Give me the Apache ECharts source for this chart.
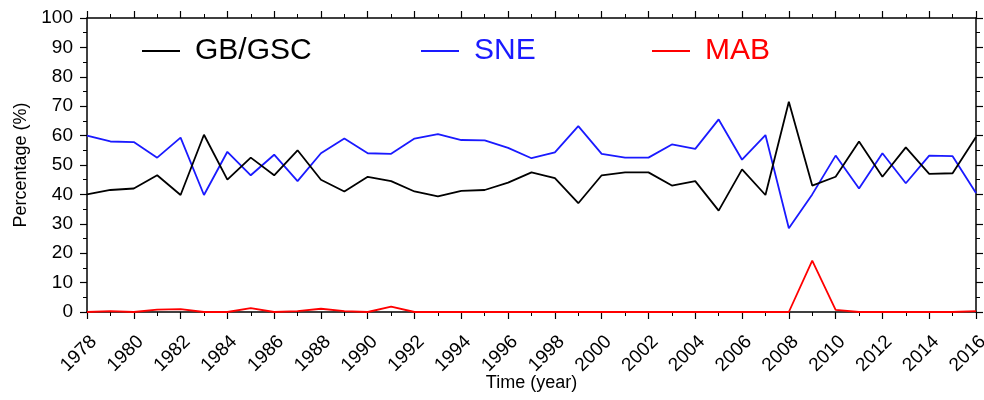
<!DOCTYPE html>
<html>
<head>
<meta charset="utf-8">
<script src="https://cdn.jsdelivr.net/npm/echarts@6/dist/echarts.min.js"></script>
<style>
  html, body { margin: 0; padding: 0; background: #fff; }
  #chart { width: 984px; height: 400px; }
</style>
</head>
<body>
<div id="chart"></div>
<script>
// 年份
const years = [];
for (let y = 1978; y <= 2016; y++) years.push(y);

// GB/GSC 百分比
const gbValues = [40, 41.5, 42, 46.5, 39.8, 60.3, 45, 52.5, 46.5, 55, 45, 41, 46, 44.5, 41,
    39.3, 41.2, 41.5, 44, 47.5, 45.5, 37, 46.5, 47.5, 47.5, 43, 44.5, 34.5, 48.5, 39.8,
    71.5, 43, 46, 58, 46, 56, 47, 47.2, 59.5];

// SNE 百分比
const sneValues = [60, 58, 57.8, 52.5, 59.3, 39.8, 54.5, 46.5, 53.5, 44.5, 54, 59, 54, 53.8, 59,
    60.5, 58.5, 58.4, 55.8, 52.3, 54.3, 63.2, 53.8, 52.5, 52.5, 57, 55.5, 65.5, 51.8, 60.2,
    28.5, 40, 53.2, 42, 54, 43.8, 53.2, 53, 40.5];

// MAB 百分比
const mabValues = [0, 0.3, 0, 0.8, 1, 0, 0, 1.3, 0, 0.3, 1.1, 0.3, 0, 1.8, 0,
    0, 0, 0, 0, 0, 0, 0, 0, 0, 0, 0, 0, 0, 0, 0,
    0, 17.5, 0.7, 0, 0, 0, 0, 0, 0.3];

const seriesNames = ['GB/GSC', 'SNE', 'MAB'];
const seriesColors = ['#000000', '#1a1aff', '#ff0000'];

const font = 'Liberation Sans, Arial, Helvetica, sans-serif';

function pairs(vals) {
    return years.map((y, i) => [y, vals[i]]);
}

const chart = echarts.init(document.getElementById('chart'));

// 坐标轴公共样式（刻度朝外）
const axisLine = { show: true, onZero: false, lineStyle: { color: '#000', width: 1.5 } };
const axisTick = { show: true, inside: false, length: 7, lineStyle: { color: '#000', width: 1.2 } };
const minorTick = { show: true, splitNumber: 2, length: 4, lineStyle: { color: '#000', width: 1 } };

const legendLeft = [137, 416, 647];

const option = {
    animation: false,
    backgroundColor: '#fff',
    grid: { left: 87, right: 8, top: 18, bottom: 88, containLabel: false, outerBoundsMode: 'none' },
    legend: seriesNames.map((name, i) => ({
        data: [name],
        left: legendLeft[i],
        top: 31,
        icon: 'rect',
        itemWidth: 38,
        itemHeight: 2,
        itemGap: 0,
        itemStyle: { color: seriesColors[i] },
        textStyle: { color: seriesColors[i], fontSize: 30, fontFamily: font, padding: [0, 0, 0, 10] }
    })),
    xAxis: [
        {
            type: 'value',
            min: 1978,
            max: 2016,
            interval: 2,
            name: 'Time (year)',
            nameLocation: 'middle',
            nameGap: 62,
            nameMoveOverlap: false,
            nameTextStyle: { fontSize: 18, fontFamily: font, color: '#000' },
            axisLine: axisLine,
            axisTick: axisTick,
            minorTick: minorTick,
            splitLine: { show: false },
            axisLabel: {
                rotate: 45,
                fontSize: 19,
                fontFamily: font,
                color: '#000',
                margin: 20,
                verticalAlign: 'top',
                formatter: v => String(v)
            }
        },
        {
            type: 'value',
            position: 'top',
            min: 1978,
            max: 2016,
            interval: 2,
            axisLine: axisLine,
            axisTick: axisTick,
            minorTick: minorTick,
            splitLine: { show: false },
            axisLabel: { show: false }
        }
    ],
    yAxis: [
        {
            type: 'value',
            min: 0,
            max: 100,
            interval: 10,
            name: 'Percentage (%)',
            nameLocation: 'middle',
            nameGap: 57,
            nameTextStyle: { fontSize: 18, fontFamily: font, color: '#000' },
            axisLine: axisLine,
            axisTick: axisTick,
            minorTick: minorTick,
            splitLine: { show: false },
            axisLabel: { fontSize: 19, fontFamily: font, color: '#000', margin: 14 }
        },
        {
            type: 'value',
            position: 'right',
            min: 0,
            max: 100,
            interval: 10,
            axisLine: axisLine,
            axisTick: axisTick,
            minorTick: minorTick,
            splitLine: { show: false },
            axisLabel: { show: false }
        }
    ],
    series: [gbValues, sneValues, mabValues].map((vals, i) => ({
        name: seriesNames[i],
        type: 'line',
        symbol: 'none',
        data: pairs(vals),
        lineStyle: { color: seriesColors[i], width: 1.8 },
        itemStyle: { color: seriesColors[i] },
        z: 3 - i
    }))
};

chart.setOption(option);
</script>
</body>
</html>
